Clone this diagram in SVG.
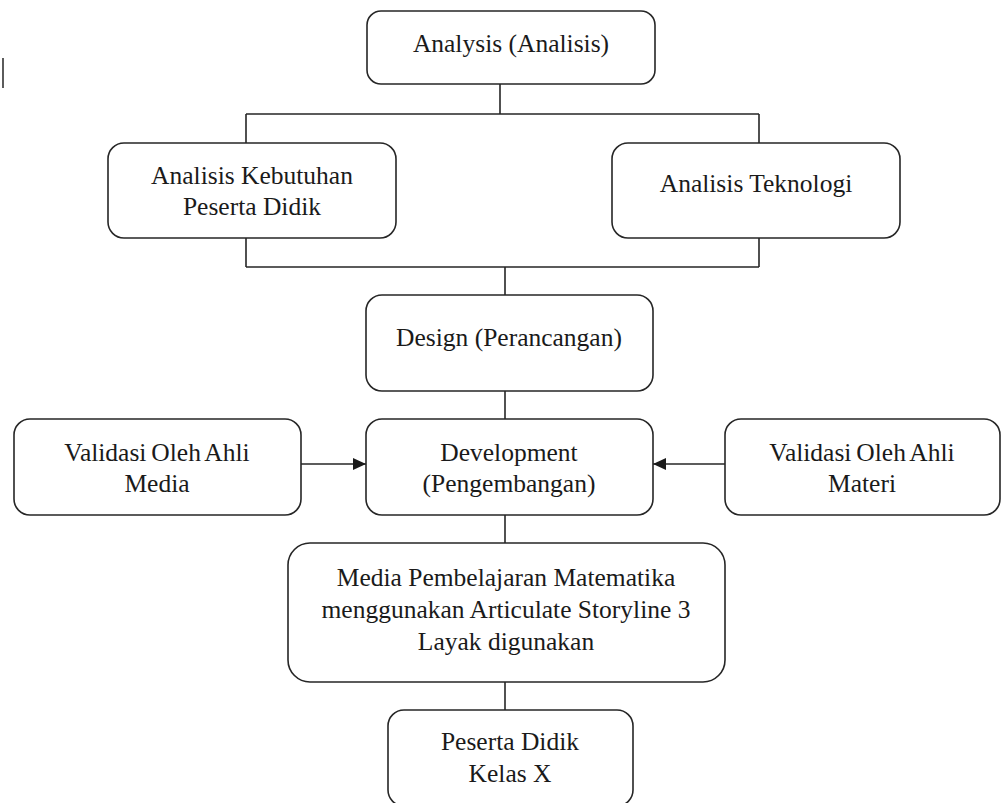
<svg xmlns="http://www.w3.org/2000/svg" width="1003" height="803" viewBox="0 0 1003 803">
<style>
.box{fill:#fff;stroke:#262626;stroke-width:1.6}
.t{font-family:"Liberation Serif","Times New Roman",serif;font-size:25.5px;fill:#1a1a1a;text-anchor:middle}
.c{fill:none;stroke:#262626;stroke-width:1.6}
</style>
<defs>
<marker id="ah" viewBox="0 0 13 12" refX="13" refY="6" markerWidth="13" markerHeight="12" markerUnits="userSpaceOnUse" orient="auto">
<path d="M0,0 L13,6 L0,12 Z" fill="#1a1a1a"/>
</marker>
</defs>
<rect width="1003" height="803" fill="#fff"/>
<line x1="3" y1="58" x2="3" y2="88" stroke="#333" stroke-width="1.6"/>
<g id="connectors">
<path class="c" d="M500,84 V114 M246,114 H759 M246,114 V143 M759,114 V143"/>
<path class="c" d="M246,238 V267 M759,238 V267 M246,267 H759 M505,267 V295"/>
<path class="c" d="M505,391 V419"/>
<path class="c" d="M301,464 H366" marker-end="url(#ah)"/>
<path class="c" d="M725,464 H653" marker-end="url(#ah)"/>
<path class="c" d="M505,515 V543"/>
<path class="c" d="M505,682 V710"/>
</g>
<g id="analysis">
<rect class="box" x="367" y="11" width="288" height="73" rx="14"/>
<text class="t" x="511" y="52">Analysis (Analisis)</text>
</g>
<g id="kebutuhan">
<rect class="box" x="108" y="143" width="288" height="95" rx="16"/>
<text class="t" x="252" y="184">Analisis Kebutuhan</text>
<text class="t" x="252" y="215">Peserta Didik</text>
</g>
<g id="teknologi">
<rect class="box" x="612" y="143" width="288" height="95" rx="16"/>
<text class="t" x="756" y="192">Analisis Teknologi</text>
</g>
<g id="design">
<rect class="box" x="366" y="295" width="287" height="96" rx="16"/>
<text class="t" x="509" y="346">Design (Perancangan)</text>
</g>
<g id="development">
<rect class="box" x="366" y="419" width="287" height="96" rx="16"/>
<text class="t" x="509" y="461">Development</text>
<text class="t" x="509" y="492">(Pengembangan)</text>
</g>
<g id="media">
<rect class="box" x="14" y="419" width="287" height="96" rx="16"/>
<text class="t" x="157" y="461" word-spacing="-1.5">Validasi Oleh Ahli</text>
<text class="t" x="157" y="492">Media</text>
</g>
<g id="materi">
<rect class="box" x="725" y="419" width="275" height="96" rx="16"/>
<text class="t" x="862" y="461" word-spacing="-1.5">Validasi Oleh Ahli</text>
<text class="t" x="862" y="492">Materi</text>
</g>
<g id="produk">
<rect class="box" x="288" y="543" width="437" height="139" rx="22"/>
<text class="t" x="506" y="586">Media Pembelajaran Matematika</text>
<text class="t" x="506" y="618">menggunakan Articulate Storyline 3</text>
<text class="t" x="506" y="650">Layak digunakan</text>
</g>
<g id="peserta">
<rect class="box" x="388" y="710" width="245" height="96" rx="16"/>
<text class="t" x="510" y="750">Peserta Didik</text>
<text class="t" x="510" y="782">Kelas X</text>
</g>
</svg>
